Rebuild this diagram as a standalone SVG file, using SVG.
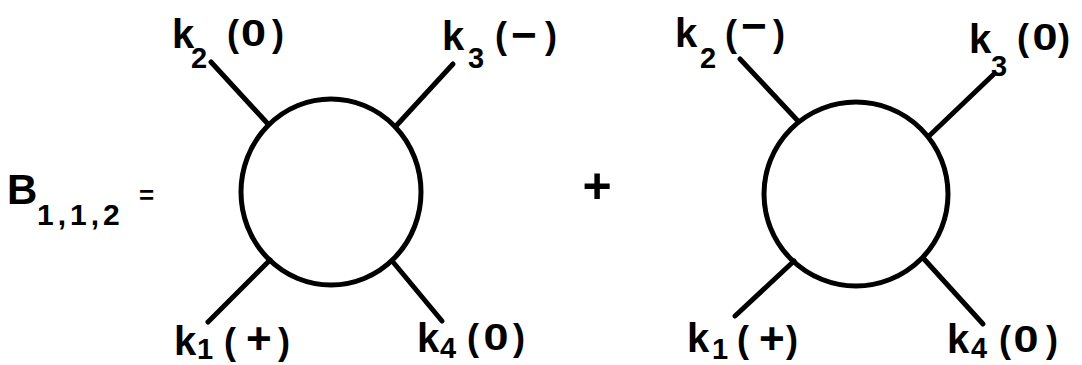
<svg xmlns="http://www.w3.org/2000/svg" width="1082" height="365" viewBox="0 0 1082 365">
  <style>
    .ring { fill: none; stroke: #000; stroke-width: 5; }
    .leg { stroke: #000; stroke-width: 5; stroke-linecap: round; }
    text { font-family: "Liberation Sans", Arial, sans-serif; font-weight: bold; fill: #000; }
    .k { font-size: 40px; }
    .s { font-size: 29px; }
    .p { font-size: 36px; }
    .m { font-size: 44px; }
    .z { font-size: 36px; text-anchor: middle; }
  </style>
  <rect width="1082" height="365" fill="#fff"/>

  <g id="label-B">
    <text x="7" y="204" font-size="42">B</text>
    <text x="37" y="225" font-size="30" letter-spacing="4">1,1,2</text>
    <text x="139" y="204" font-size="26">=</text>
  </g>

  <g id="plus">
    <text x="597" y="203" font-size="50" text-anchor="middle">+</text>
  </g>

  <g id="connectors">
    <line class="leg" x1="211" y1="62" x2="268" y2="124"/>
    <line class="leg" x1="453" y1="64" x2="396" y2="126"/>
    <line class="leg" x1="208" y1="322" x2="270" y2="260"/>
    <line class="leg" x1="442" y1="321" x2="393" y2="262"/>
    <line class="leg" x1="740" y1="59" x2="798" y2="121"/>
    <line class="leg" x1="994" y1="74" x2="929" y2="136"/>
    <line class="leg" x1="735" y1="316" x2="794" y2="261"/>
    <line class="leg" x1="983" y1="324" x2="924" y2="259"/>
  </g>

  <g id="blob-left">
    <ellipse class="ring" cx="331" cy="192" rx="90" ry="93"/>
  </g>
  <g id="blob-right">
    <ellipse class="ring" cx="856" cy="194" rx="92" ry="92"/>
  </g>

  <g id="left-k2">
    <text class="k" x="172" y="48">k</text>
    <text class="s" x="191" y="68">2</text>
    <text class="p" x="227" y="46">(</text>
    <text class="z" transform="translate(253.5,46) scale(1.25,1)">0</text>
    <text class="p" x="272" y="46">)</text>
  </g>
  <g id="left-k3">
    <text class="k" x="442" y="50">k</text>
    <text class="s" x="468" y="68">3</text>
    <text class="p" x="495" y="48">(</text>
    <text class="m" x="511" y="50">−</text>
    <text class="p" x="545" y="48">)</text>
  </g>
  <g id="left-k1">
    <text class="k" x="174" y="355">k</text>
    <text class="s" x="197" y="359">1</text>
    <text class="p" x="224" y="354">(</text>
    <text class="m" x="246" y="354">+</text>
    <text class="p" x="278" y="354">)</text>
  </g>
  <g id="left-k4">
    <text class="k" x="417" y="352">k</text>
    <text class="s" x="440" y="358">4</text>
    <text class="p" x="467" y="350">(</text>
    <text class="z" transform="translate(496,350) scale(1.25,1)">0</text>
    <text class="p" x="513" y="350">)</text>
  </g>

  <g id="right-k2">
    <text class="k" x="675" y="47">k</text>
    <text class="s" x="700" y="68">2</text>
    <text class="p" x="725" y="46">(</text>
    <text class="m" x="741" y="41">−</text>
    <text class="p" x="773" y="46">)</text>
  </g>
  <g id="right-k3">
    <text class="k" x="969" y="53">k</text>
    <text class="s" x="991" y="76">3</text>
    <text class="p" x="1017" y="50">(</text>
    <text class="z" transform="translate(1045,50) scale(1.25,1)">0</text>
    <text class="p" x="1058" y="50">)</text>
  </g>
  <g id="right-k1">
    <text class="k" x="687" y="352">k</text>
    <text class="s" x="712" y="359">1</text>
    <text class="p" x="737" y="352">(</text>
    <text class="m" x="759" y="354">+</text>
    <text class="p" x="786" y="352">)</text>
  </g>
  <g id="right-k4">
    <text class="k" x="947" y="353">k</text>
    <text class="s" x="971" y="358">4</text>
    <text class="p" x="999" y="352">(</text>
    <text class="z" transform="translate(1026,352) scale(1.25,1)">0</text>
    <text class="p" x="1046" y="352">)</text>
  </g>
</svg>
